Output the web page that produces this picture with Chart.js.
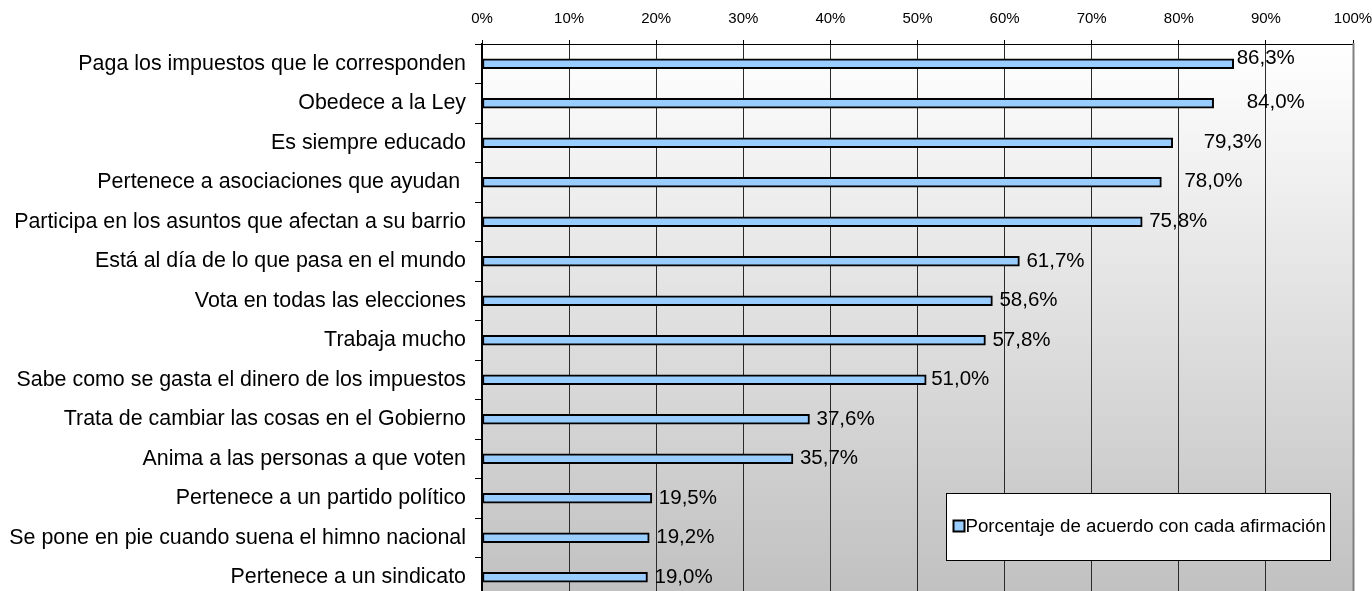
<!DOCTYPE html>
<html>
<head>
<meta charset="utf-8">
<script src="https://cdn.jsdelivr.net/npm/chart.js@4.4.1/dist/chart.umd.min.js"></script>
<style>
  html, body { margin: 0; padding: 0; background: #fff; overflow: hidden; width: 1372px; height: 591px; }
  #marco { width: 1372px; height: 591px; overflow: hidden; position: relative; }
  #grafico { display: block; position: absolute; left: 0; top: 0; }
</style>
</head>
<body>
<div id="marco"><canvas id="grafico" width="1372" height="598"></canvas></div>
<script>
// datos del gráfico
const afirmaciones = [
    "Paga los impuestos que le corresponden",
    "Obedece a la Ley",
    "Es siempre educado",
    "Pertenece a asociaciones que ayudan ",
    "Participa en los asuntos que afectan a su barrio",
    "Está al día de lo que pasa en el mundo",
    "Vota en todas las elecciones",
    "Trabaja mucho",
    "Sabe como se gasta el dinero de los impuestos",
    "Trata de cambiar las cosas en el Gobierno",
    "Anima a las personas a que voten",
    "Pertenece a un partido político",
    "Se pone en pie cuando suena el himno nacional",
    "Pertenece a un sindicato"
];
const porcentajes = [86.3, 84.0, 79.3, 78.0, 75.8, 61.7, 58.6, 57.8, 51.0, 37.6, 35.7, 19.5, 19.2, 19.0];
const nombreSerie = "Porcentaje de acuerdo con cada afirmación";
const ticksEjeX = [0, 10, 20, 30, 40, 50, 60, 70, 80, 90, 100];

// pequeños desplazamientos de las etiquetas (como en el original)
const ajusteEtiquetaX = [-4, 26, 24, 16, 0, 0, 0, 0, -2, 0, 0, 0, 0, 0];
const ajusteEtiquetaY = [-5, -1, 0, -1, 0, 0, 0, 0, 0, 0, 0, 0, 0, 0];

const fuente = "'Liberation Sans', Arial, sans-serif";

function formatoPct(v) {
    return v.toFixed(1).replace(".", ",") + "%";
}

// fondo degradado del área del gráfico + borde + leyenda
const fondoDegradado = {
    id: "fondoDegradado",
    beforeDraw(chart) {
        const { ctx, chartArea } = chart;
        const g = ctx.createLinearGradient(0, chartArea.top, 0, chartArea.bottom);
        g.addColorStop(0, "#ffffff");
        g.addColorStop(1, "#c0c0c0");
        ctx.save();
        ctx.fillStyle = g;
        ctx.fillRect(chartArea.left, chartArea.top, chartArea.right - chartArea.left, chartArea.bottom - chartArea.top);
        ctx.restore();
    },
    afterDraw(chart) {
        const { ctx, chartArea } = chart;
        ctx.save();
        // borde derecho gris
        ctx.strokeStyle = "#808080";
        ctx.lineWidth = 2;
        ctx.beginPath();
        ctx.moveTo(chartArea.right + 0.5, chartArea.top - 1);
        ctx.lineTo(chartArea.right + 0.5, chartArea.bottom);
        ctx.stroke();

        // leyenda dentro del área
        const lx = chartArea.right - 406.5, ly = chartArea.bottom - 103.5;
        const lw = 384, lh = 67;
        ctx.fillStyle = "#ffffff";
        ctx.fillRect(lx, ly, lw, lh);
        ctx.strokeStyle = "#000";
        ctx.lineWidth = 1;
        ctx.strokeRect(lx, ly, lw, lh);
        ctx.fillStyle = "#99ccff";
        ctx.fillRect(lx + 7, ly + 27, 11, 11);
        ctx.lineWidth = 2;
        ctx.strokeRect(lx + 7, ly + 27, 11, 11);
        ctx.fillStyle = "#000";
        ctx.font = "18.7px " + fuente;
        ctx.textBaseline = "middle";
        ctx.textAlign = "left";
        ctx.fillText(nombreSerie, lx + 19, ly + 33.5);
        ctx.restore();
    }
};

// etiquetas con el valor al final de cada barra
const etiquetasValor = {
    id: "etiquetasValor",
    afterDatasetsDraw(chart) {
        const { ctx } = chart;
        const meta = chart.getDatasetMeta(0);
        ctx.save();
        ctx.font = "20.5px " + fuente;
        ctx.fillStyle = "#000";
        ctx.textBaseline = "middle";
        ctx.textAlign = "left";
        meta.data.forEach((barra, i) => {
            ctx.fillText(formatoPct(porcentajes[i]), barra.x + 7 + ajusteEtiquetaX[i], barra.y + ajusteEtiquetaY[i]);
        });
        ctx.restore();
    }
};

const ctx = document.getElementById("grafico").getContext("2d");
const grafico = new Chart(ctx, {
    type: "bar",
    data: {
        labels: afirmaciones,
        datasets: [{
            label: nombreSerie,
            data: porcentajes,
            backgroundColor: "#99ccff",
            borderColor: "#000000",
            borderWidth: 2,
            borderSkipped: false,
            barThickness: 10
        }]
    },
    options: {
        indexAxis: "y",
        responsive: false,
        animation: false,
        layout: { padding: { top: 0, right: 19, bottom: 1, left: 0 } },
        plugins: {
            legend: { display: false },
            tooltip: { enabled: false }
        },
        scales: {
            x: {
                position: "top",
                min: 0,
                max: 100,
                afterBuildTicks(scale) {
                    scale.ticks = ticksEjeX.map(v => ({ value: v }));
                },
                afterFit(scale) {
                    scale.height = 44;
                    scale.paddingLeft = 0;
                    scale.paddingRight = 0;
                },
                ticks: {
                    callback: v => v + "%",
                    color: "#000",
                    font: { family: fuente, size: 15 },
                    padding: 12,
                    maxRotation: 0
                },
                grid: {
                    color: "#2a2a2a",
                    lineWidth: 1,
                    tickLength: 4,
                    tickColor: "#000"
                },
                border: { color: "#000", width: 1 }
            },
            y: {
                afterFit(scale) {
                    scale.width = 482;
                    scale.paddingTop = 0;
                    scale.paddingBottom = 0;
                },
                ticks: {
                    color: "#000",
                    font: { family: fuente, size: 21.4 },
                    padding: 9
                },
                grid: {
                    display: true,
                    drawOnChartArea: false,
                    offset: true,
                    tickLength: 7,
                    tickColor: "#000"
                },
                border: { color: "#000", width: 2 }
            }
        }
    },
    plugins: [fondoDegradado, etiquetasValor]
});
</script>
</body>
</html>
